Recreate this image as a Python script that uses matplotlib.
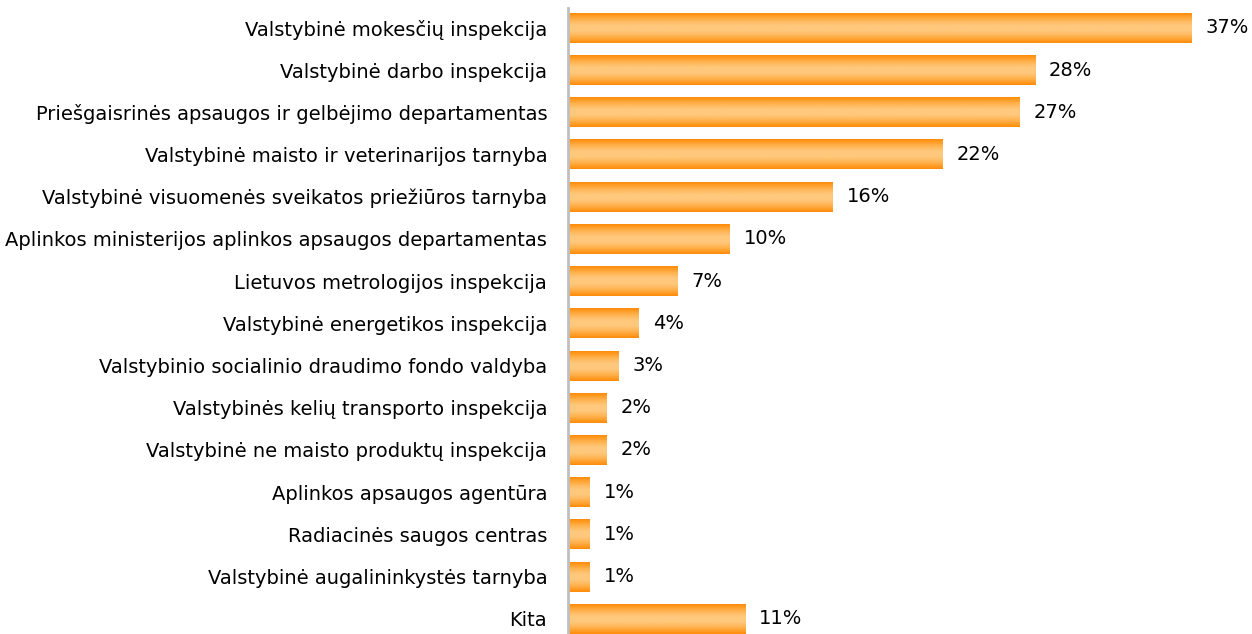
import numpy as np
import matplotlib.pyplot as plt
from matplotlib.colors import LinearSegmentedColormap

# Institucijos ir jų dalis (%)
institucijos = [
    'Valstybinė mokesčių inspekcija',
    'Valstybinė darbo inspekcija',
    'Priešgaisrinės apsaugos ir gelbėjimo departamentas',
    'Valstybinė maisto ir veterinarijos tarnyba',
    'Valstybinė visuomenės sveikatos priežiūros tarnyba',
    'Aplinkos ministerijos aplinkos apsaugos departamentas',
    'Lietuvos metrologijos inspekcija',
    'Valstybinė energetikos inspekcija',
    'Valstybinio socialinio draudimo fondo valdyba',
    'Valstybinės kelių transporto inspekcija',
    'Valstybinė ne maisto produktų inspekcija',
    'Aplinkos apsaugos agentūra',
    'Radiacinės saugos centras',
    'Valstybinė augalininkystės tarnyba',
    'Kita',
]
dalys = [37.0, 27.7, 26.8, 22.2, 15.7, 9.6, 6.5, 4.2, 3.0, 2.3, 2.3, 1.3, 1.3, 1.3, 10.5]
zymes = ['37%', '28%', '27%', '22%', '16%', '10%', '7%', '4%', '3%', '2%', '2%', '1%', '1%', '1%', '11%']

plt.rcParams['font.family'] = ['DejaVu Sans']

fig = plt.figure(figsize=(12.52, 6.34), dpi=100)
ax = fig.add_axes([568 / 1252, 0, (1252 - 568) / 1252, 1 - 8 / 634])

# gradientas: tamsesni kraštai, šviesus vidurys
cmap = LinearSegmentedColormap.from_list(
    'oranzine', ['#ff8c0a', '#ffb04a', '#ffc87c', '#ffc87c', '#ffb04a', '#ff8c0a'])
grad = np.linspace(0, 1, 64).reshape(-1, 1)

aukstis = 0.71
for i, v in enumerate(dalys):
    ax.imshow(grad, cmap=cmap, aspect='auto', interpolation='bilinear',
              extent=(0, v, i + aukstis / 2, i - aukstis / 2), zorder=2)
    ax.annotate(zymes[i], (v, i), xytext=(10, 0), textcoords='offset points',
                va='center', ha='left', fontsize=14, color='black')

ax.set_xlim(0, 40.57)
ax.set_ylim(14.36, -0.47)
ax.set_yticks(range(len(institucijos)))
ax.set_yticklabels(institucijos, fontsize=14)
ax.tick_params(axis='y', length=0, pad=15)
ax.set_xticks([])
for s in ['top', 'right', 'bottom']:
    ax.spines[s].set_visible(False)
ax.spines['left'].set_color('#bfbfbf')
ax.spines['left'].set_linewidth(2)

fig.savefig('out.png', dpi=100)
